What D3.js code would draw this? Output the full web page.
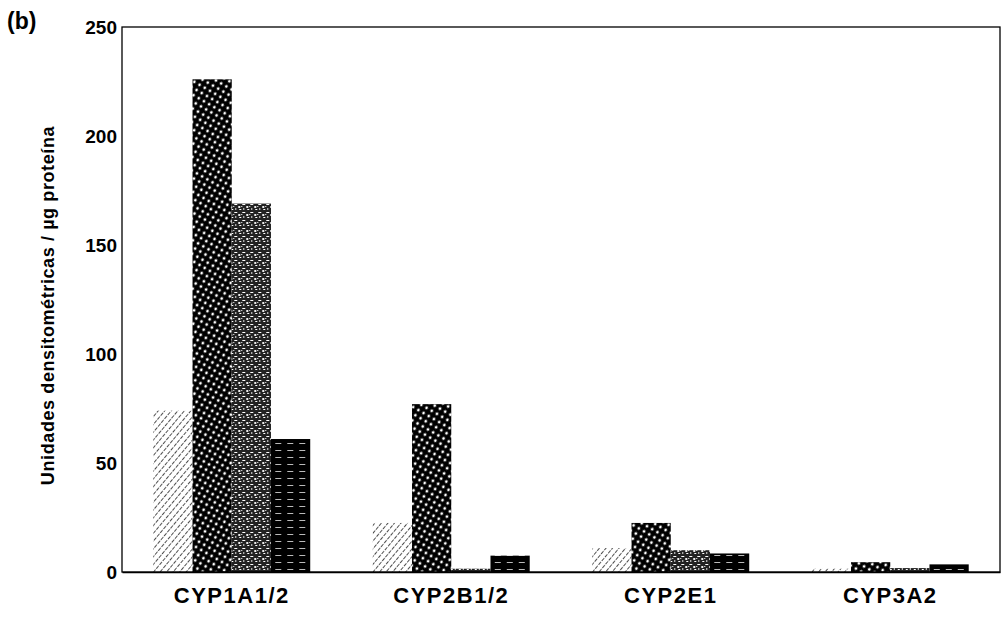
<!DOCTYPE html>
<html>
<head>
<meta charset="utf-8">
<script src="https://cdn.jsdelivr.net/npm/d3@7"></script>
<style>
  body { margin: 0; background: #fff; }
  text { font-family: "Liberation Sans", Arial, sans-serif; font-weight: bold; fill: #000; }
</style>
</head>
<body>
<svg width="1006" height="621"></svg>
<script>
// datos
var categories = ["CYP1A1/2", "CYP2B1/2", "CYP2E1", "CYP3A2"];
var series = ["s1", "s2", "s3", "s4"];
var s1 = [74, 22.5, 11, 1.5];
var s2 = [226, 77, 22.5, 4.5];
var s3 = [169, 1.5, 10, 1.8];
var s4 = [61, 7.5, 8.5, 3.5];
var yTicks = [0, 50, 100, 150, 200, 250];
var yTitle = "Unidades densitométricas / µg proteína";

var values = [s1, s2, s3, s4];

var svg = d3.select("svg"),
    margin = { top: 27, right: 6, bottom: 49, left: 122 },
    width = +svg.attr("width") - margin.left - margin.right,
    height = +svg.attr("height") - margin.top - margin.bottom;

// patrones de relleno (tramas en blanco y negro)
var defs = svg.append("defs");

var p1 = defs.append("pattern").attr("id", "pat-s1")
    .attr("patternUnits", "userSpaceOnUse").attr("width", 5).attr("height", 5)
    .attr("patternTransform", "rotate(40)");
p1.append("rect").attr("width", 5).attr("height", 5).attr("fill", "#fff");
p1.append("line").attr("x1", 0).attr("y1", 0).attr("x2", 0).attr("y2", 5)
    .attr("stroke", "#111").attr("stroke-width", 1.5).attr("stroke-dasharray", "3,1.2");

var p2 = defs.append("pattern").attr("id", "pat-s2")
    .attr("patternUnits", "userSpaceOnUse").attr("width", 6).attr("height", 6)
    .attr("patternTransform", "rotate(30)");
p2.append("rect").attr("width", 6).attr("height", 6).attr("fill", "#000");
p2.append("circle").attr("cx", 3).attr("cy", 3).attr("r", 1.4).attr("fill", "#fff");

var p3 = defs.append("pattern").attr("id", "pat-s3")
    .attr("patternUnits", "userSpaceOnUse").attr("width", 8).attr("height", 8);
p3.append("rect").attr("width", 8).attr("height", 8).attr("fill", "#222");
p3.append("rect").attr("x", 1).attr("y", 1).attr("width", 3).attr("height", 1).attr("fill", "#fff");
p3.append("rect").attr("x", 5).attr("y", 3).attr("width", 2).attr("height", 2).attr("fill", "#eee");
p3.append("rect").attr("x", 2).attr("y", 5).attr("width", 1).attr("height", 2).attr("fill", "#ddd");
p3.append("rect").attr("x", 6).attr("y", 6).attr("width", 2).attr("height", 1).attr("fill", "#fff");
p3.append("rect").attr("x", 0).attr("y", 3).attr("width", 1).attr("height", 1).attr("fill", "#fff");

var p4 = defs.append("pattern").attr("id", "pat-s4")
    .attr("patternUnits", "userSpaceOnUse").attr("width", 12).attr("height", 7);
p4.append("rect").attr("width", 12).attr("height", 7).attr("fill", "#000");
p4.append("rect").attr("x", 2).attr("y", 3).attr("width", 6).attr("height", 1).attr("fill", "#bbb");

// escalas
var groupFrac = 0.715;
var x0 = d3.scaleBand().domain(categories).range([0, width]).padding(0);
var x1 = d3.scaleBand().domain(series).range([0, x0.bandwidth() * groupFrac]).padding(0);
var y = d3.scaleLinear().domain([0, 250]).range([height, 0]);

var g = svg.append("g")
    .attr("transform", "translate(" + margin.left + "," + margin.top + ")");

// barras
var groups = g.selectAll(".grupo")
    .data(categories)
    .enter().append("g")
    .attr("class", "grupo")
    .attr("transform", function (d) {
        return "translate(" + (x0(d) + x0.bandwidth() * (1 - groupFrac) / 2) + ",0)";
    });

groups.selectAll("rect")
    .data(function (d, i) {
        return series.map(function (s, j) { return { s: s, v: values[j][i] }; });
    })
    .enter().append("rect")
    .attr("x", function (d) { return x1(d.s); })
    .attr("y", function (d) { return y(d.v); })
    .attr("width", x1.bandwidth())
    .attr("height", function (d) { return height - y(d.v); })
    .attr("fill", function (d) { return "url(#pat-" + d.s + ")"; });

// marco
g.append("rect")
    .attr("width", width).attr("height", height)
    .attr("fill", "none").attr("stroke", "#000").attr("stroke-width", 1.3);

// eje y
var yAxis = g.append("g")
    .call(d3.axisLeft(y).tickValues(yTicks).tickSize(0).tickPadding(5));
yAxis.select(".domain").remove();
yAxis.selectAll("text")
    .style("font-size", "19px")
    .style("font-family", "'Liberation Sans', Arial, sans-serif")
    .style("font-weight", "bold")
    .attr("fill", "#000");

// eje x
var xAxis = g.append("g")
    .attr("transform", "translate(0," + height + ")")
    .call(d3.axisBottom(x0).tickSize(0).tickPadding(15));
xAxis.select(".domain").attr("stroke-width", 1.6);
xAxis.selectAll("text")
    .style("font-size", "22px")
    .style("letter-spacing", "1.5px")
    .style("font-family", "'Liberation Sans', Arial, sans-serif")
    .style("font-weight", "bold")
    .attr("fill", "#000");

// titulo del eje y
svg.append("text")
    .attr("transform", "translate(54," + (margin.top + height / 2 + 6) + ") rotate(-90)")
    .attr("text-anchor", "middle")
    .style("font-size", "18px")
    .style("letter-spacing", "0.6px")
    .text(yTitle);

// letra del panel
svg.append("text")
    .attr("x", 7).attr("y", 29)
    .style("font-size", "23px")
    .text("(b)");
</script>
</body>
</html>
